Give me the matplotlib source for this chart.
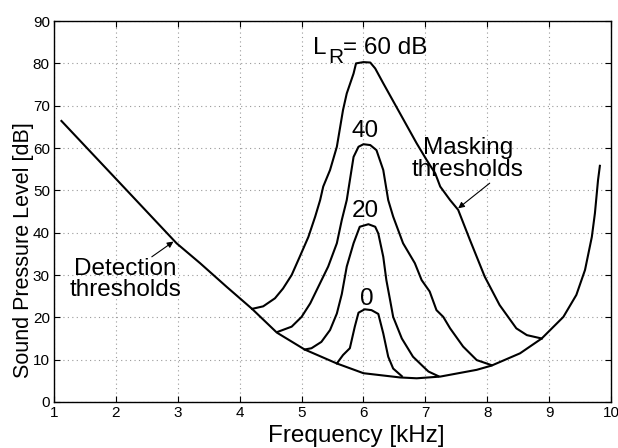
import matplotlib
matplotlib.use("Agg")
import matplotlib.pyplot as plt

plt.rcParams['font.family'] = ['Liberation Sans', 'DejaVu Sans']

# absolute threshold in quiet
det_f = [1.12, 2.17, 2.98, 3.36, 3.79, 4.20, 4.60, 5.05, 5.57, 6.00, 6.59, 6.86,
         7.24, 7.83, 8.07, 8.53, 8.88, 9.23, 9.44, 9.58, 9.69, 9.74, 9.79, 9.82]
det_L = [66.4, 50.1, 37.5, 32.8, 27.2, 22.0, 16.4, 12.4, 9.1, 6.8, 5.8, 5.6,
         6.0, 7.6, 8.6, 11.5, 15.0, 20.1, 25.3, 31.2, 39.0, 44.6, 52.4, 55.8]

# masked thresholds for masker levels L_R
m60_f = [4.20, 4.38, 4.57, 4.70, 4.84, 4.97, 5.11, 5.22, 5.30, 5.35, 5.46, 5.57,
         5.67, 5.73, 5.84, 5.88, 6.00, 6.11, 6.19, 6.32, 6.59, 6.86, 7.02, 7.16,
         7.24, 7.40, 7.53, 7.72, 7.96, 8.20, 8.47, 8.64, 8.88]
m60_L = [22.0, 22.6, 24.5, 26.8, 30.0, 34.3, 39.0, 43.8, 47.7, 50.9, 54.8, 60.3,
         69.0, 72.9, 77.6, 80.0, 80.3, 80.2, 78.8, 75.3, 68.2, 61.1, 57.2, 54.0,
         50.9, 47.7, 45.4, 38.3, 29.6, 22.9, 17.4, 15.8, 15.0]

m40_f = [4.62, 4.84, 5.00, 5.14, 5.27, 5.43, 5.57, 5.65, 5.73, 5.84, 5.92, 6.00,
         6.11, 6.21, 6.32, 6.40, 6.48, 6.64, 6.83, 6.94, 7.07, 7.18, 7.29, 7.40,
         7.61, 7.83, 8.07]
m40_L = [16.6, 17.8, 20.1, 23.3, 27.2, 32.0, 37.5, 43.0, 47.7, 57.9, 60.3, 60.9,
         60.7, 59.5, 54.8, 47.7, 43.8, 37.5, 32.8, 28.8, 26.1, 21.7, 20.1, 17.4,
         13.1, 9.9, 8.7]

m20_f = [5.05, 5.16, 5.32, 5.46, 5.57, 5.65, 5.73, 5.84, 5.94, 6.08, 6.19, 6.24,
         6.32, 6.37, 6.43, 6.48, 6.62, 6.80, 6.97, 7.05, 7.21]
m20_L = [12.4, 12.7, 14.2, 17.0, 20.9, 25.5, 32.0, 37.5, 41.4, 42.0, 41.4, 39.8,
         34.3, 28.8, 24.1, 20.1, 15.0, 10.7, 8.3, 7.2, 6.1]

m0_f = [5.57, 5.67, 5.78, 5.86, 5.92, 6.02, 6.13, 6.24, 6.32, 6.40, 6.48, 6.62]
m0_L = [9.1, 11.1, 12.7, 17.8, 21.1, 21.9, 21.7, 20.8, 16.2, 10.7, 7.9, 6.1]

fig = plt.figure(figsize=(6.18, 4.48), dpi=100)
ax = fig.add_axes([0.0874, 0.1027, 0.9013, 0.8503])

for f, L in [(det_f, det_L), (m60_f, m60_L), (m40_f, m40_L),
             (m20_f, m20_L), (m0_f, m0_L)]:
    ax.plot(f, L, color='black', lw=1.5)

ax.set_xlim(1, 10)
ax.set_ylim(0, 90)
ax.set_xticks(range(1, 11))
ax.set_yticks(range(0, 91, 10))
ax.grid(True, color='#999999', linestyle=(0, (1, 3)), lw=0.8)
ax.tick_params(direction='in', top=True, right=True, labelsize=11, length=4, pad=3)
for s in ax.spines.values():
    s.set_linewidth(1.0)

ax.set_xlabel('Frequency [kHz]', fontsize=17.5)
ax.xaxis.set_label_coords(0.542, -0.060)
ax.set_ylabel('Sound Pressure Level [dB]', fontsize=15.5)
ax.yaxis.set_label_coords(-0.036, 0.399)

fs = 17.5
ax.text(5.18, 83.6, 'L', fontsize=fs, ha='left', va='center')
ax.text(5.43, 81.5, 'R', fontsize=15, ha='left', va='center')
ax.text(5.67, 83.6, '= 60 dB', fontsize=fs, ha='left', va='center')
ax.text(6.03, 64.1, '40', fontsize=fs, ha='center', va='center')
ax.text(6.03, 45.2, '20', fontsize=fs, ha='center', va='center')
ax.text(6.06, 24.3, '0', fontsize=fs, ha='center', va='center')

ax.text(7.69, 57.4, 'Masking\nthresholds', fontsize=fs, ha='center', va='center',
        multialignment='center', linespacing=0.95)
ax.text(2.155, 28.9, 'Detection\nthresholds', fontsize=fs, ha='center', va='center',
        multialignment='center', linespacing=0.95)

arrow = dict(arrowstyle='-|>', color='black', lw=0.8, mutation_scale=9,
             shrinkA=0, shrinkB=0)
ax.annotate('', xy=(7.53, 45.75), xytext=(8.04, 51.7), arrowprops=arrow)
ax.annotate('', xy=(2.93, 37.9), xytext=(2.58, 34.3), arrowprops=arrow)

fig.savefig('out.png', dpi=100)
